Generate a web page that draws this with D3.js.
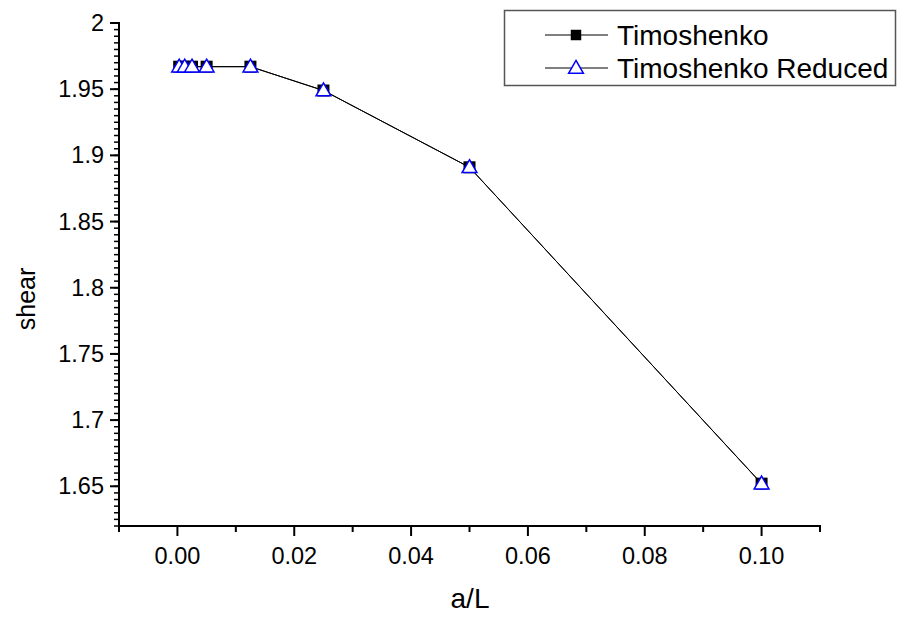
<!DOCTYPE html>
<html>
<head>
<meta charset="utf-8">
<script src="https://cdn.jsdelivr.net/npm/d3@7"></script>
<style>
  body { margin: 0; background: #fff; }
  text { font-family: "Liberation Sans", Arial, sans-serif; }
</style>
</head>
<body>
<script>
// a/L values and the shear results of both element types
const aL = [0.0003, 0.00125, 0.0025, 0.005, 0.0125, 0.025, 0.05, 0.1];
const timo = [1.967, 1.967, 1.967, 1.967, 1.967, 1.949, 1.891, 1.652];
const timoReduced = [1.967, 1.967, 1.967, 1.967, 1.967, 1.949, 1.891, 1.652];
const seriesNames = ["Timoshenko", "Timoshenko Reduced"];
const xTicks = [0, 0.02, 0.04, 0.06, 0.08, 0.1];
const yTicks = [1.65, 1.7, 1.75, 1.8, 1.85, 1.9, 1.95, 2];

const width = 900, height = 618;
const svg = d3.select("body").append("svg").attr("width", width).attr("height", height);

const x = d3.scaleLinear().domain([-0.01, 0.11]).range([119, 820]);
const y = d3.scaleLinear().domain([1.62, 2.0]).range([526, 23]);

// x axis
const xAxis = svg.append("g").attr("transform", `translate(0,${y.range()[0]})`);
xAxis.append("line").attr("x1", x.range()[0] - 1).attr("x2", x.range()[1] + 1)
    .attr("stroke", "#000").attr("stroke-width", 2);
xAxis.selectAll(".minor").data(d3.range(-0.01, 0.111, 0.02)).enter()
    .append("line").attr("x1", d => x(d)).attr("x2", d => x(d))
    .attr("y1", 0).attr("y2", 6).attr("stroke", "#000").attr("stroke-width", 2);
xAxis.selectAll(".major").data(xTicks).enter()
    .append("line").attr("x1", d => x(d)).attr("x2", d => x(d))
    .attr("y1", 0).attr("y2", 10).attr("stroke", "#000").attr("stroke-width", 2);
xAxis.selectAll("text").data(xTicks).enter()
    .append("text").attr("x", d => x(d)).attr("y", 38)
    .attr("text-anchor", "middle").attr("font-size", 23.5)
    .text(d => d3.format(".2f")(d));

// y axis
const yAxis = svg.append("g").attr("transform", `translate(${x.range()[0]},0)`);
yAxis.append("line").attr("y1", y.range()[1] - 1).attr("y2", y.range()[0] + 1)
    .attr("stroke", "#000").attr("stroke-width", 2);
yAxis.selectAll(".minor").data(d3.range(0, 77).map(i => 1.62 + i * 0.005)).enter()
    .append("line").attr("y1", d => y(d)).attr("y2", d => y(d))
    .attr("x1", 0).attr("x2", -5).attr("stroke", "#000").attr("stroke-width", 1.5);
yAxis.selectAll(".major").data(yTicks).enter()
    .append("line").attr("y1", d => y(d)).attr("y2", d => y(d))
    .attr("x1", 0).attr("x2", -9).attr("stroke", "#000").attr("stroke-width", 2);
yAxis.selectAll("text").data(yTicks).enter()
    .append("text").attr("x", -15).attr("y", d => y(d) + 8)
    .attr("text-anchor", "end").attr("font-size", 23.5)
    .text(d => d3.format("")(d));

// axis titles
svg.append("text").attr("x", 470).attr("y", 608).attr("text-anchor", "middle")
    .attr("font-size", 28).text("a/L");
svg.append("text").attr("transform", "translate(35,299) rotate(-90)")
    .attr("text-anchor", "middle").attr("font-size", 25).text("shear");

// lines
const line = d3.line().x(d => x(d[0])).y(d => y(d[1]));
svg.append("path").datum(aL.map((d, i) => [d, timo[i]]))
    .attr("d", line).attr("fill", "none").attr("stroke", "#000").attr("stroke-width", 1);
svg.append("path").datum(aL.map((d, i) => [d, timoReduced[i]]))
    .attr("d", line).attr("fill", "none").attr("stroke", "#000").attr("stroke-width", 1);

const sq = d3.symbol().type(d3.symbolSquare).size(144);
const tri = d3.symbol().type(d3.symbolTriangle).size(95);

svg.append("g").selectAll("path").data(aL.map((d, i) => [d, timo[i]])).enter()
    .append("path").attr("d", sq)
    .attr("transform", d => `translate(${x(d[0])},${y(d[1])})`)
    .attr("fill", "#000");
svg.append("g").selectAll("path").data(aL.map((d, i) => [d, timoReduced[i]])).enter()
    .append("path").attr("d", tri)
    .attr("transform", d => `translate(${x(d[0])},${y(d[1]) + 1})`)
    .attr("fill", "#fff").attr("stroke", "#0000ff").attr("stroke-width", 1.5);

// legend
const legend = svg.append("g");
legend.append("rect").attr("x", 504.5).attr("y", 10.5).attr("width", 391).attr("height", 75)
    .attr("fill", "#fff").attr("stroke", "#555").attr("stroke-width", 1.5);
seriesNames.forEach((name, i) => {
  const ly = 35 + i * 33;
  legend.append("line").attr("x1", 545).attr("x2", 608).attr("y1", ly).attr("y2", ly)
      .attr("stroke", "#000").attr("stroke-width", 1);
  if (i === 0) {
    legend.append("path").attr("d", d3.symbol().type(d3.symbolSquare).size(110))
        .attr("transform", `translate(576,${ly})`).attr("fill", "#000");
  } else {
    legend.append("path").attr("d", tri).attr("transform", `translate(576,${ly + 1})`)
        .attr("fill", "#fff").attr("stroke", "#0000ff").attr("stroke-width", 1.5);
  }
  legend.append("text").attr("x", 617).attr("y", ly + 10).attr("font-size", 28).text(name);
});
</script>
</body>
</html>
